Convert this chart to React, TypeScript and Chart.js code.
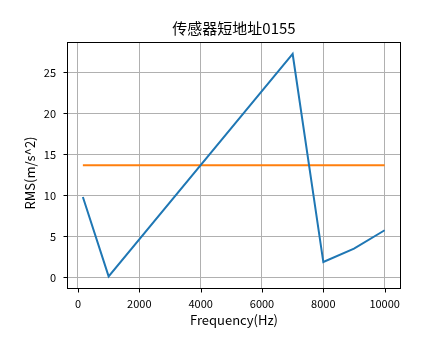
import React, { useEffect, useRef } from "react";
import { Chart, registerables } from "chart.js";

Chart.register(...registerables);

const frequencies = [160, 1000, 7000, 8000, 9000, 10000];
const rmsValues = [9.8, 0.12, 27.26, 1.87, 3.5, 5.75];
const thresholdFrequencies = [160, 10000];
const thresholdValues = [13.69, 13.69];
const xTickValues = [0, 2000, 4000, 6000, 8000, 10000];
const yTickValues = [0, 5, 10, 15, 20, 25];
const titleText = "传感器短地址0155";
const xLabel = "Frequency(Hz)";
const yLabel = "RMS(m/s^2)";

const FONT = '"Noto Sans CJK SC", "Noto Sans", sans-serif';

const framePlugin = {
  id: "mplFrame",
  afterDraw(chart: any) {
    const { ctx, chartArea, scales } = chart;
    const { left, top, right, bottom } = chartArea;
    const x = scales.x;
    const y = scales.y;
    ctx.save();
    ctx.strokeStyle = "#000";
    ctx.lineWidth = 1;
    ctx.strokeRect(Math.round(left) - 0.5, Math.round(top) - 0.5, Math.round(right - left) + 1, Math.round(bottom - top) + 1);
    ctx.beginPath();
    for (const v of yTickValues) {
      const py = Math.round(y.getPixelForValue(v)) + 0.5;
      ctx.moveTo(left - 4.5, py);
      ctx.lineTo(left, py);
    }
    for (const v of xTickValues) {
      const px = Math.round(x.getPixelForValue(v)) + 0.5;
      ctx.moveTo(px, bottom);
      ctx.lineTo(px, bottom + 4.5);
    }
    ctx.stroke();
    ctx.translate(30, 173);
    ctx.rotate(-Math.PI / 2);
    ctx.font = `13px ${FONT}`;
    ctx.fillStyle = "#000";
    ctx.textAlign = "center";
    ctx.textBaseline = "middle";
    ctx.fillText(yLabel, 0, 0);
    ctx.restore();
  },
};

export default function App() {
  const canvasRef = useRef<HTMLCanvasElement | null>(null);

  useEffect(() => {
    document.body.style.margin = "0";
    const canvas = canvasRef.current;
    if (!canvas) return;
    const chart = new Chart(canvas, {
      type: "line",
      data: {
        datasets: [
          {
            data: frequencies.map((f, i) => ({ x: f, y: rmsValues[i] })),
            borderColor: "#1f77b4",
            backgroundColor: "#1f77b4",
            borderWidth: 2,
            pointRadius: 0,
            tension: 0,
          },
          {
            data: thresholdFrequencies.map((f, i) => ({ x: f, y: thresholdValues[i] })),
            borderColor: "#ff7f0e",
            backgroundColor: "#ff7f0e",
            borderWidth: 2,
            pointRadius: 0,
            tension: 0,
          },
        ],
      },
      options: {
        animation: false,
        responsive: false,
        devicePixelRatio: 1,
        layout: { padding: { left: 0, right: 44, top: 0, bottom: 0 } },
        plugins: {
          legend: { display: false },
          tooltip: { enabled: false },
          title: {
            display: true,
            text: titleText,
            fullSize: false,
            color: "#000",
            font: { family: FONT, size: 15, weight: "normal" },
            padding: { top: 19, bottom: 6 },
          },
        },
        scales: {
          x: {
            type: "linear",
            min: -325,
            max: 10500,
            afterBuildTicks: (s: any) => {
              s.ticks = xTickValues.map((v) => ({ value: v }));
            },
            afterFit: (s: any) => {
              s.height = 71;
            },
            ticks: {
              color: "#000",
              font: { family: FONT, size: 11 },
              padding: 9,
              maxRotation: 0,
              autoSkip: false,
              callback: (v: any) => String(v),
            },
            grid: { color: "#b0b0b0", drawTicks: false, lineWidth: 1 },
            border: { display: false },
            title: {
              display: true,
              text: xLabel,
              color: "#000",
              font: { family: FONT, size: 13 },
              padding: { top: 0, bottom: 31 },
            },
          },
          y: {
            type: "linear",
            min: -1.3,
            max: 28.6,
            afterBuildTicks: (s: any) => {
              s.ticks = yTickValues.map((v) => ({ value: v }));
            },
            afterFit: (s: any) => {
              s.width = 68;
            },
            ticks: {
              color: "#000",
              font: { family: FONT, size: 11 },
              padding: 12,
              autoSkip: false,
              callback: (v: any) => String(v),
            },
            grid: { color: "#b0b0b0", drawTicks: false, lineWidth: 1 },
            border: { display: false },
          },
        },
      },
      plugins: [framePlugin],
    } as any);
    return () => chart.destroy();
  }, []);

  return (
    <canvas
      ref={canvasRef}
      width={444}
      height={359}
      style={{ display: "block", position: "fixed", left: 0, top: 0, width: 444, height: 359 }}
    />
  );
}
